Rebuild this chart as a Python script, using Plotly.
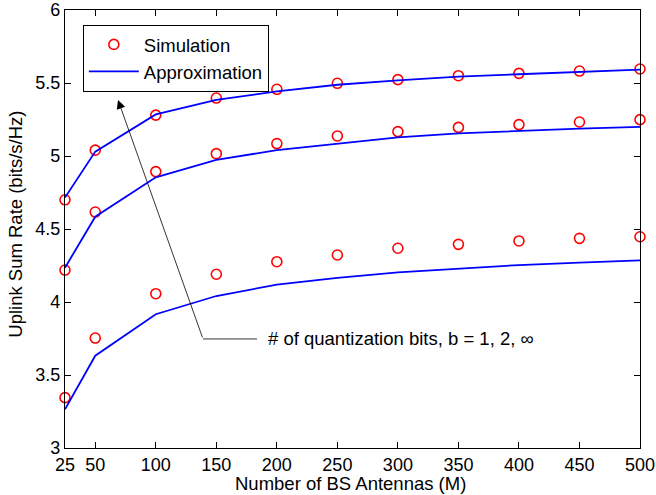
import plotly.graph_objects as go

M = [25, 50, 100, 150, 200, 250, 300, 350, 400, 450, 500]

sim_inf = [4.70, 5.04, 5.28, 5.397, 5.457, 5.498, 5.523, 5.55, 5.566, 5.582, 5.596]
sim_b2 = [4.219, 4.616, 4.893, 5.016, 5.085, 5.137, 5.167, 5.196, 5.215, 5.233, 5.249]
sim_b1 = [3.345, 3.753, 4.057, 4.19, 4.276, 4.322, 4.368, 4.395, 4.418, 4.436, 4.447]

app_inf = [4.715, 5.03, 5.285, 5.384, 5.442, 5.488, 5.518, 5.544, 5.56, 5.578, 5.591]
app_b2 = [4.235, 4.584, 4.854, 4.973, 5.04, 5.085, 5.128, 5.155, 5.173, 5.187, 5.199]
app_b1 = [3.265, 3.632, 3.916, 4.041, 4.119, 4.165, 4.203, 4.23, 4.253, 4.27, 4.285]

x_ticks = [25, 50, 100, 150, 200, 250, 300, 350, 400, 450, 500]
y_ticks = [3, 3.5, 4, 4.5, 5, 5.5, 6]

FONT = "Liberation Sans, Arial, Helvetica, sans-serif"
FS_TICK = 18
FS_TEXT = 18.5

fig = go.Figure()

for i, s in enumerate([sim_inf, sim_b2, sim_b1]):
    fig.add_trace(go.Scatter(
        x=M, y=s, mode="markers", name="Simulation",
        legendgroup="sim", showlegend=(i == 0),
        marker=dict(symbol="circle-open", size=10, color="#ff0000",
                    line=dict(width=1.6, color="#ff0000")),
        cliponaxis=False,
    ))

for i, a in enumerate([app_inf, app_b2, app_b1]):
    fig.add_trace(go.Scatter(
        x=M, y=a, mode="lines", name="Approximation",
        legendgroup="app", showlegend=(i == 0),
        line=dict(color="#0000ff", width=1.8),
    ))

# annotation: arrow and text
tail_x, tail_y = 139, 3.747
tip_x, tip_y = 68.8, 5.384
fig.add_annotation(
    x=tip_x, y=tip_y, ax=tail_x, ay=tail_y,
    xref="x", yref="y", axref="x", ayref="y",
    text="", showarrow=True, arrowhead=2, arrowsize=2.2,
    arrowwidth=0.8, arrowcolor="black", standoff=0, startstandoff=0,
)
fig.add_shape(type="line", xref="x", yref="y",
              x0=tail_x, y0=tail_y, x1=183.6, y1=tail_y,
              line=dict(color="black", width=0.8))
fig.add_annotation(
    x=191, y=tail_y, xref="x", yref="y",
    text="# of quantization bits, b = 1, 2, ∞", showarrow=False,
    xanchor="left", yanchor="middle",
    font=dict(family=FONT, size=FS_TEXT, color="black"),
)

# axis titles
fig.add_annotation(
    x=0.4965, y=-0.082, xref="paper", yref="paper",
    text="Number of BS Antennas (M)", showarrow=False,
    xanchor="center", yanchor="middle",
    font=dict(family=FONT, size=FS_TEXT, color="black"),
)
fig.add_annotation(
    x=-0.086, y=0.511, xref="paper", yref="paper",
    text="Uplink Sum Rate (bits/s/Hz)", showarrow=False, textangle=-90,
    xanchor="center", yanchor="middle",
    font=dict(family=FONT, size=FS_TEXT, color="black"),
)

axis_common = dict(
    showline=True, linecolor="black", linewidth=1.3, mirror="ticks",
    ticks="inside", ticklen=6, tickcolor="black", tickwidth=1,
    showgrid=False, zeroline=False, automargin=False,
    tickfont=dict(family=FONT, size=FS_TICK, color="black"),
)

fig.update_xaxes(range=[25, 500], tickvals=x_ticks,
                 ticktext=[str(t) for t in x_ticks], **axis_common)
fig.update_yaxes(range=[3, 6], tickvals=y_ticks,
                 ticktext=[("%g" % t) for t in y_ticks], **axis_common)

fig.update_layout(
    width=656, height=495,
    margin=dict(l=65, r=16, t=10, b=47, autoexpand=False),
    plot_bgcolor="white", paper_bgcolor="white",
    legend=dict(x=0.031, y=0.966, xanchor="left", yanchor="top",
                bgcolor="white", bordercolor="black", borderwidth=1,
                font=dict(family=FONT, size=FS_TEXT, color="black"),
                tracegroupgap=0, itemwidth=50),
    font=dict(family=FONT, color="black"),
)

fig.write_html("out.html", config={"displayModeBar": False},
               post_script="document.body.style.margin='0';document.body.style.overflow='hidden';")
